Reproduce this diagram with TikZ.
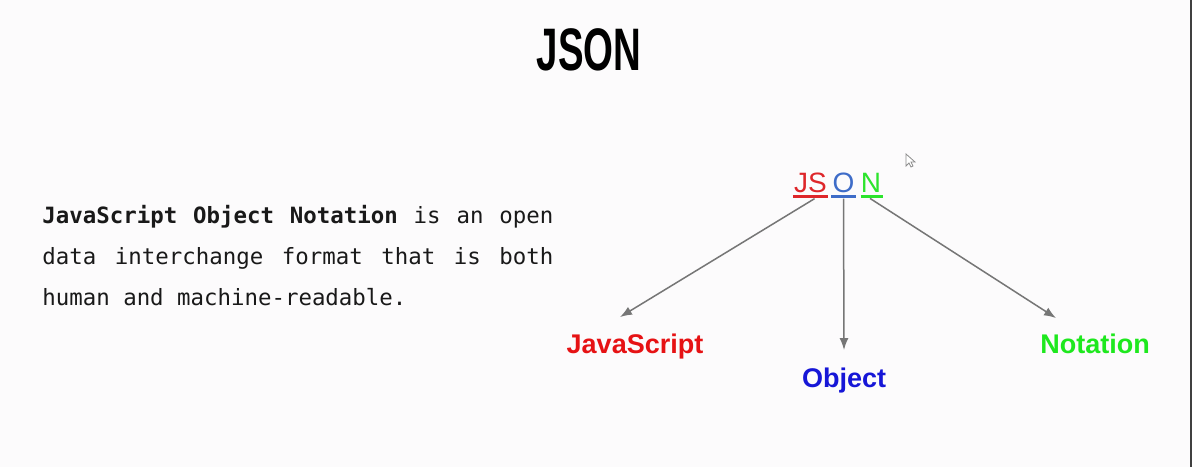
\documentclass[tikz,border=0pt]{standalone}
\usepackage{fontspec}
\usepackage{tikz}
\usetikzlibrary{arrows,arrows.meta}
\setmainfont{Liberation Sans}
\newfontfamily\bodyfont{DejaVu Sans Mono}
\definecolor{bgcol}{RGB}{252,251,252}
\definecolor{jsred}{RGB}{222,38,42}
\definecolor{oblue}{RGB}{62,108,200}
\definecolor{ngreen}{RGB}{44,228,44}
\definecolor{labred}{RGB}{230,18,20}
\definecolor{labblue}{RGB}{22,22,215}
\definecolor{labgreen}{RGB}{30,232,30}
\definecolor{arrowgray}{RGB}{118,118,118}

\begin{document}
\begin{tikzpicture}[x=0.5pt,y=-0.5pt]
\tikzset{letter/.style = {inner sep=0pt, anchor=base, font=\fontsize{14pt}{16pt}\selectfont}}
\tikzset{word/.style = {inner sep=2pt, anchor=base, font=\fontsize{13.5pt}{16pt}\selectfont\bfseries}}
\tikzset{edge/.style = {->,> = {Latex[length=6pt,width=4.5pt]}, draw=arrowgray, fill=arrowgray, line width=0.75pt}}
\fill[bgcol] (0,0) rectangle (1192,467);
\useasboundingbox (0,0) rectangle (1192,467);
\draw[black!75, line width=1pt] (1191,0) -- (1191,467);
% title and text
\node[inner sep=0pt, anchor=base] (title) at (589,70)
  {\fontsize{30pt}{34pt}\selectfont\bfseries\scalebox{0.64}[1]{JSON}};
\node[inner sep=0pt, anchor=base west, text width=255.5pt, align=justify,
  font=\bodyfont\fontsize{11.2pt}{20.5pt}\selectfont, text=black!90] (body) at (42,223)
  {\spaceskip=0.6em plus 10em\relax
   \textbf{JavaScript Object Notation} is an open\linebreak
   data interchange format that is both\linebreak
   human and machine-readable.};
% letters
\node[letter, text=jsred] (js) at (810.5,192) {JS};
\node[letter, text=oblue] (o) at (843.5,192) {O};
\node[letter, text=ngreen] (n) at (871,192) {N};
\draw[jsred, line width=1.5pt] ([shift={(-1,4)}]js.south west) -- ([shift={(1,4)}]js.south east);
\draw[oblue, line width=1.5pt] ([shift={(-1,4)}]o.south west) -- ([shift={(1,4)}]o.south east);
\draw[ngreen, line width=1.5pt] ([shift={(0,4)}]n.south west) -- ([shift={(1,4)}]n.south east);
% words
\node[word, text=labred] (jsl) at (635,353) {JavaScript};
\node[word, text=labblue] (ol) at (844,387) {Object};
\node[word, text=labgreen] (nl) at (1095,353) {Notation};
%edges
\draw[edge] ([shift={(4,6)}]js.south) -- ([shift={(-15,-12)}]jsl.north);
\draw[edge] ([shift={(0,6)}]o.south) -- ([shift={(0,-13)}]ol.north);
\draw[edge] ([shift={(-1,6)}]n.south) -- ([shift={(-39,-11)}]nl.north);
% pointer
\draw[black!45, line width=0.4pt, fill=white] (906,154) -- (906,166) -- (909,163) -- (911,167)
  -- (913,166) -- (911,162) -- (915,162) -- cycle;
\end{tikzpicture}
\end{document}
